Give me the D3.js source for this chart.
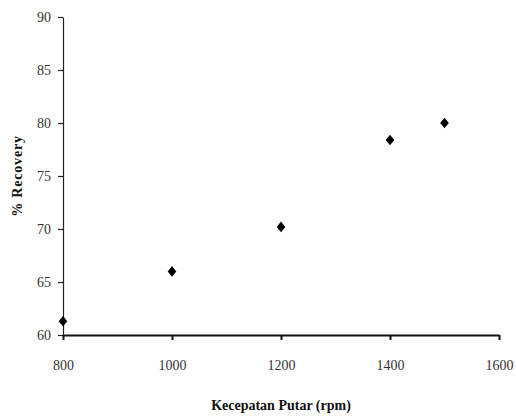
<!DOCTYPE html>
<html>
<head>
<meta charset="utf-8">
<style>
  body { margin: 0; background: #fff; }
  text { font-family: "Liberation Serif", "DejaVu Serif", serif; }
</style>
</head>
<body>
<svg id="chart" width="516" height="417"></svg>

<script src="https://d3js.org/d3.v7.min.js"></script>
<script>
// data
var speeds = [800, 1000, 1200, 1400, 1500];
var recovery = [61.3, 66.0, 70.2, 78.4, 80.0];
var xTicks = [800, 1000, 1200, 1400, 1600];
var yTicks = [60, 65, 70, 75, 80, 85, 90];

var svg = d3.select("#chart");
var plotLeft = 63, plotRight = 499, plotTop = 17, plotBottom = 335;

var x = d3.scaleLinear().domain([800, 1600]).range([plotLeft, plotRight]);
var y = d3.scaleLinear().domain([60, 90]).range([plotBottom, plotTop]);

// y axis
var yAxis = svg.append("g")
    .attr("transform", "translate(" + plotLeft + ",0)")
    .call(d3.axisLeft(y).tickValues(yTicks).tickSize(5).tickPadding(7).tickSizeOuter(0));
yAxis.select(".domain").attr("stroke", "#222").attr("stroke-width", 1.2);
yAxis.selectAll(".tick line").attr("stroke", "#222").attr("stroke-width", 1.2);
yAxis.selectAll("text").attr("font-size", 14).attr("fill", "#333")
    .attr("font-family", "Liberation Serif, serif");

// x axis
var xAxis = svg.append("g")
    .attr("transform", "translate(0," + plotBottom + ")")
    .call(d3.axisBottom(x).tickValues(xTicks).tickFormat(d3.format("d"))
      .tickSize(5).tickPadding(20).tickSizeOuter(0));
xAxis.select(".domain").attr("stroke", "#111").attr("stroke-width", 2.2);
xAxis.selectAll(".tick line").attr("stroke", "#111").attr("stroke-width", 2);
xAxis.selectAll("text").attr("font-size", 14).attr("fill", "#333")
    .attr("font-family", "Liberation Serif, serif");

// diamond markers
var diamond = {
  draw: function (ctx, size) {
    var w = 4.3, h = 5.3;
    ctx.moveTo(0, -h);
    ctx.lineTo(w, 0);
    ctx.lineTo(0, h);
    ctx.lineTo(-w, 0);
    ctx.closePath();
  }
};

svg.append("g").selectAll("path")
  .data(speeds)
  .join("path")
    .attr("transform", function (d, i) { return "translate(" + x(d) + "," + y(recovery[i]) + ")"; })
    .attr("d", d3.symbol().type(diamond))
    .attr("fill", "#000");

// axis titles
svg.append("text")
    .attr("x", 281).attr("y", 410)
    .attr("text-anchor", "middle")
    .attr("font-size", 14).attr("font-weight", "bold").attr("fill", "#111")
    .text("Kecepatan Putar (rpm)");

svg.append("text")
    .attr("transform", "translate(22,176) rotate(-90)")
    .attr("text-anchor", "middle")
    .attr("font-size", 14).attr("font-weight", "bold").attr("fill", "#111")
    .attr("letter-spacing", 0.8)
    .text("% Recovery");
</script>
</body>
</html>
